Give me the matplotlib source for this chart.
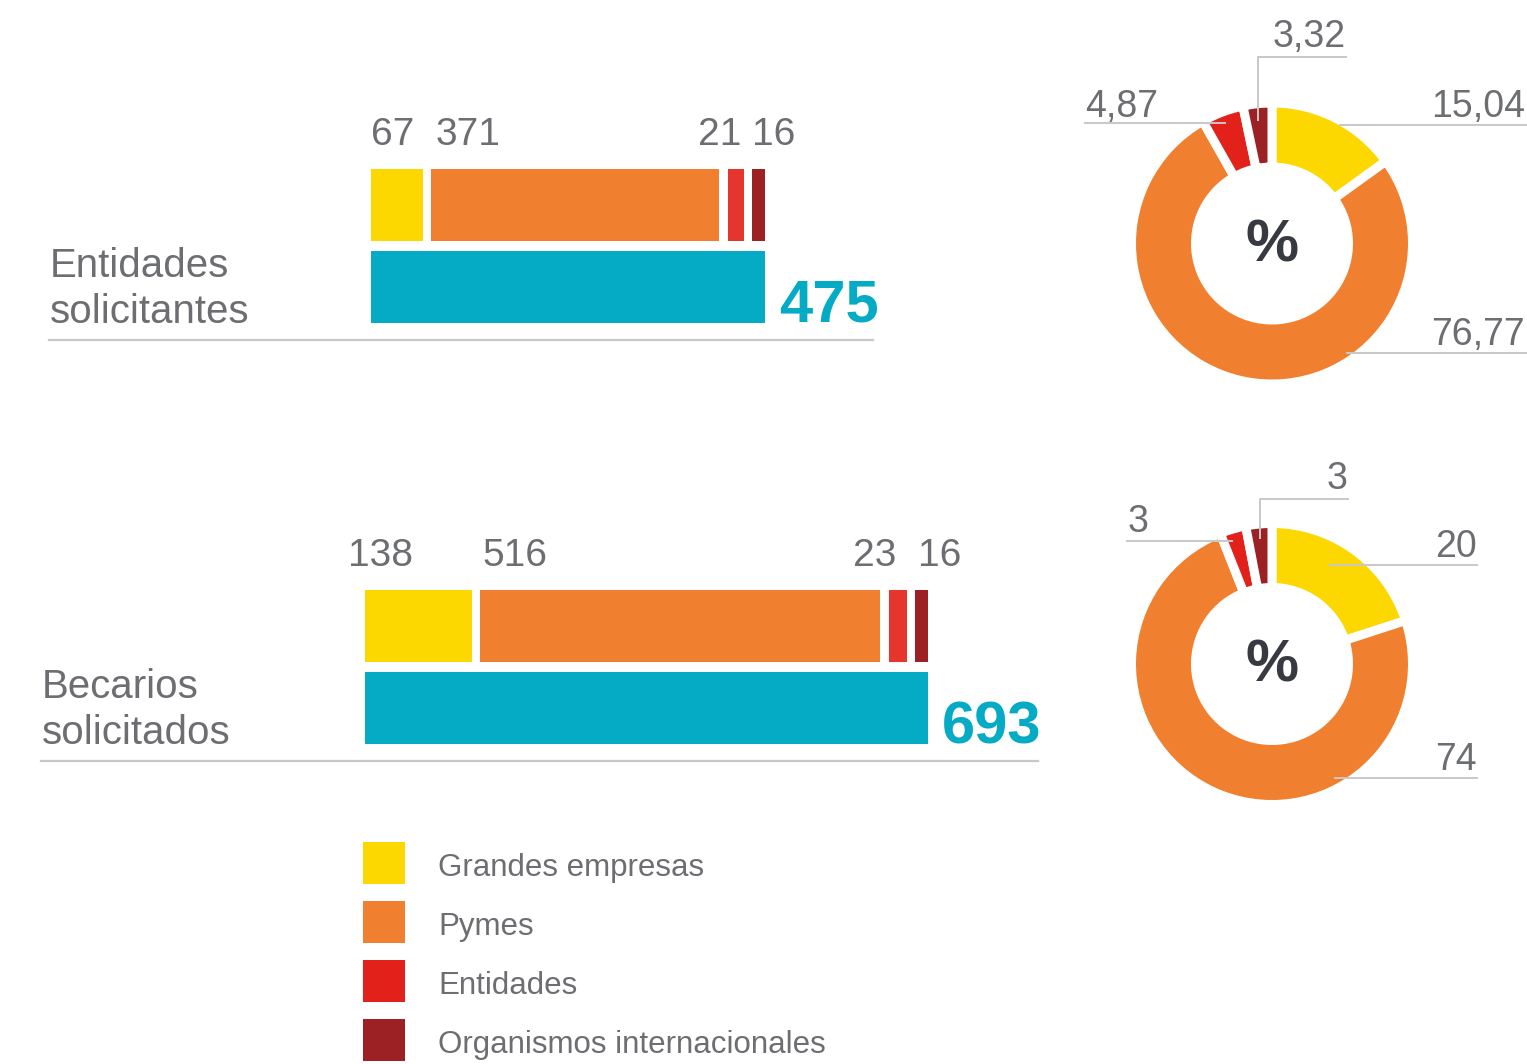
import matplotlib.pyplot as plt
from matplotlib.patches import Rectangle

## data
categories = ['Grandes empresas', 'Pymes', 'Entidades', 'Organismos internacionales']
entidades = [67, 371, 21, 16]
becarios = [138, 516, 23, 16]
entidades_pct = [15.04, 76.77, 4.87, 3.32]
becarios_pct = [20, 74, 3, 3]
panel_titles = [['Entidades', 'solicitantes'], ['Becarios', 'solicitados']]

## style
bar_colors = ['#fdd700', '#f07f2f', '#e5352d', '#9c2124']
pie_colors = ['#fdd700', '#f07f2f', '#e2211b', '#9c2124']
teal = '#05abc4'
grey = '#6d6e72'
rule = '#c8c8c8'
plt.rcParams['font.family'] = ['Liberation Sans', 'DejaVu Sans']

W, H = 1527, 1064
SCALE = 0.775   # px per unit
GAP = 11        # units between segments

fig = plt.figure(figsize=(W / 100, H / 100), dpi=100)
bg = fig.add_axes([0, 0, 1, 1])
bg.set_xlim(0, W)
bg.set_ylim(H, 0)
bg.axis('off')
bg.set_zorder(10)   # leader lines over the donuts


def fmt(v):
    return f'{v:g}'.replace('.', ',')


def bar_panel(x0, seg_y, values, label_dx):
    ax = fig.add_axes([x0 / W, 0, 900 * SCALE / W, 1])
    ax.set_xlim(0, 900)
    ax.set_ylim(H, 0)
    ax.axis('off')
    lefts = []
    pos = 0
    for v in values:
        lefts.append(pos)
        pos += v + GAP
    end = lefts[-1] + values[-1]
    ax.barh(seg_y, values, left=lefts, height=72, color=bar_colors)
    ax.barh(seg_y + 82, end, left=0, height=72, color=teal)
    for i, v in enumerate(values):
        if i == 2:
            x, ha = lefts[i] + v, 'right'
        else:
            x, ha = lefts[i], 'left'
        ax.annotate(str(v), xy=(x, seg_y - 36), xytext=(label_dx[i], 24),
                    textcoords='offset pixels', ha=ha, va='baseline',
                    fontsize=28, color=grey)
    ax.annotate(str(sum(values)), xy=(end, seg_y + 82 + 36), xytext=(14, 1),
                textcoords='offset pixels', ha='left', va='baseline',
                fontsize=43, fontweight='bold', color=teal)


def donut(cx, cy, values):
    S = 300
    ax = fig.add_axes([(cx - S / 2) / W, 1 - (cy + S / 2) / H, S / W, S / H])
    w = 9
    ax.pie(values, colors=pie_colors, startangle=90, counterclock=False,
           radius=136 + w / 2,
           wedgeprops=dict(width=55 + w, edgecolor='white', linewidth=w * 0.72))
    ax.set_xlim(-S / 2, S / 2)
    ax.set_ylim(-S / 2, S / 2)
    ax.text(0, -2, '%', ha='center', va='center', fontsize=43,
            fontweight='bold', color='#373a40')


# left bars
bar_panel(371, 205, entidades, [0, 4, -2, 0])
bar_panel(365, 626, becarios, [-17, 2, -10, 3])

# panel titles and rules
for (l1, l2), x, base, (x1, ry) in zip(panel_titles, [50, 42], [277, 698],
                                       [(873, 340), (1038, 761)]):
    bg.text(x, base, l1, fontsize=29, color=grey, va='baseline')
    bg.text(x, base + 46, l2, fontsize=29, color=grey, va='baseline')
    bg.plot([x - 1, x1], [ry, ry], color=rule, lw=1.6)

# donuts
donut(1272, 243.5, entidades_pct)
donut(1272, 664, becarios_pct)

# leader lines: (line points, text anchor, ha)
leaders = [
    [([1340, 1527], [125, 125]), (1525, 117), 'right'],
    [([1347, 1527], [353, 353]), (1525, 345), 'right'],
    [([1225, 1085], [123, 123]), (1085, 117), 'left'],
    [([1258, 1258, 1346], [120, 57, 57]), (1346, 47), 'right'],
    [([1330, 1477], [565, 565]), (1477, 557), 'right'],
    [([1335, 1477], [778, 778]), (1477, 770), 'right'],
    [([1232, 1127], [541, 541]), (1128, 532), 'left'],
    [([1260, 1260, 1348], [538, 499, 499]), (1347, 489), 'right'],
]
pie_labels = [fmt(v) for v in entidades_pct + becarios_pct]
for (line, (tx, ty), ha), lab in zip(leaders, pie_labels):
    bg.plot(line[0], line[1], color=rule, lw=1.4)
    bg.text(tx, ty, lab, ha=ha, va='baseline', fontsize=27, color=grey)

# legend
for i, (c, name) in enumerate(zip(pie_colors, categories)):
    y0 = 842 + i * 59
    bg.add_patch(Rectangle((363, y0), 42, 42, color=c, lw=0))
    bg.text(438, y0 + 34, name, fontsize=22.5, color=grey, va='baseline')

fig.savefig('out.png', dpi=100, facecolor='white')
